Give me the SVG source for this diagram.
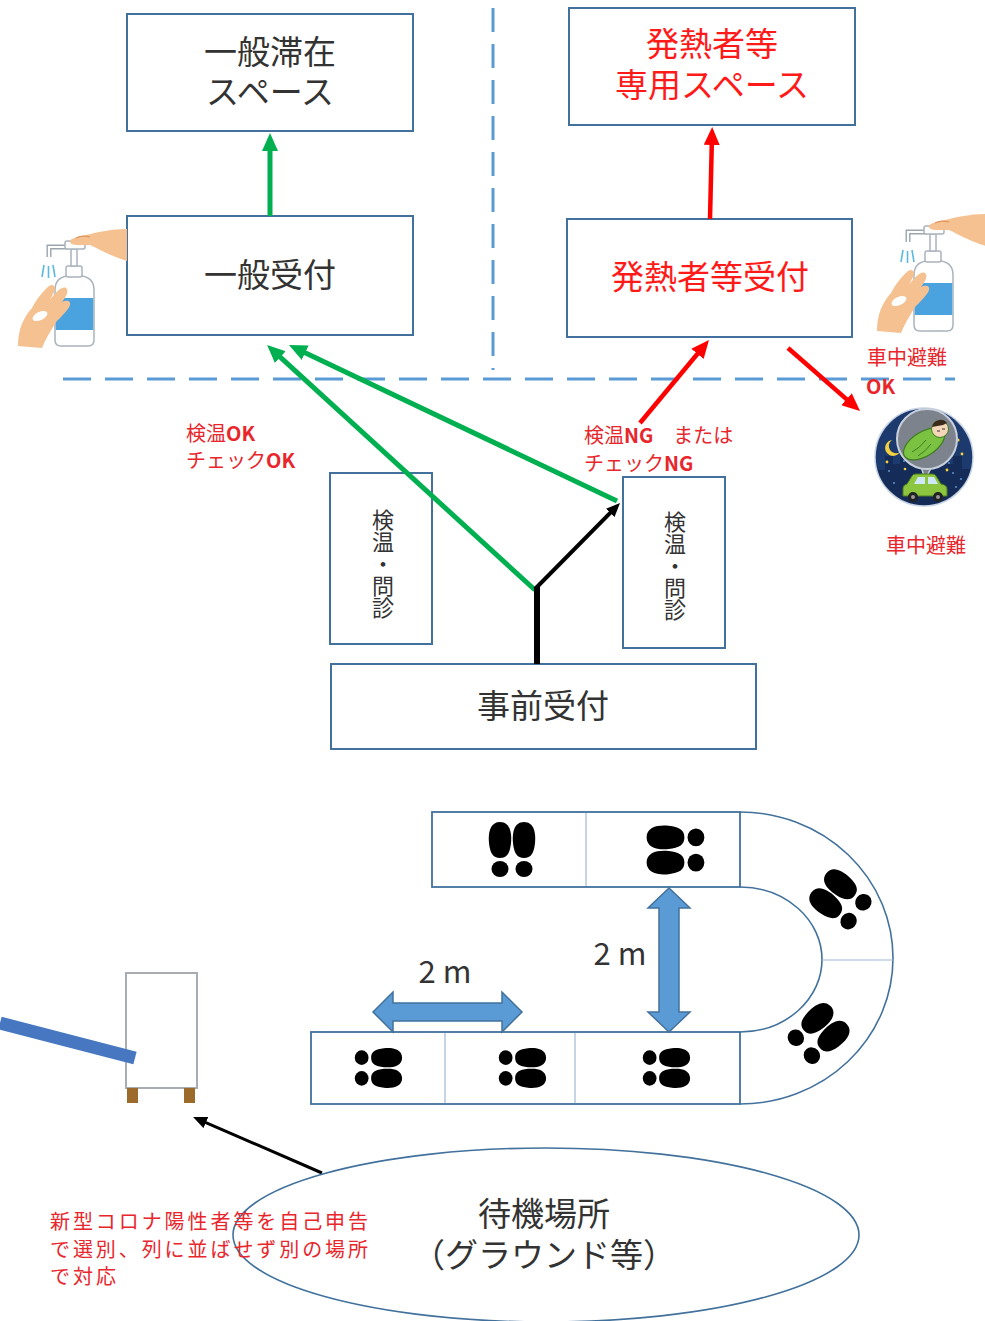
<svg xmlns="http://www.w3.org/2000/svg" xmlns:xlink="http://www.w3.org/1999/xlink" width="985" height="1321" viewBox="0 0 985 1321">
  <style>
    text { font-family: "Noto Sans CJK JP", "Noto Sans", sans-serif; }
    .box { fill: #ffffff; stroke: #41719c; stroke-width: 2; }
    .lbl { font-size: 33px; fill: #333333; text-anchor: middle; }
    .lbl-red { font-size: 33px; fill: #ff1a1a; text-anchor: middle; }
    .vt { font-size: 22px; fill: #333333; writing-mode: vertical-rl; }
    .note { font-size: 20px; fill: #e8262c; }
    .divider { stroke: #5b9bd5; stroke-width: 3; fill: none; }
    .lane { fill: #ffffff; stroke: #41719c; stroke-width: 1.8; }
    .lane-sep { stroke: #9dbad6; stroke-width: 1.2; }
    .curve { fill: none; stroke: #41719c; stroke-width: 1.6; }
    .g-arrow { stroke: #00b050; stroke-width: 5; fill: none; }
    .r-arrow { stroke: #ff0000; stroke-width: 4.5; fill: none; }
    .k-arrow { stroke: #000000; fill: none; }
    .dist { fill: #5b9bd5; stroke: #41719c; stroke-width: 1.5; }
    .skin { fill: #f6c190; }
  </style>
  <defs>
    <marker id="ah-green" viewBox="0 0 18 16" refX="6" refY="8" markerWidth="18" markerHeight="16" markerUnits="userSpaceOnUse" orient="auto">
      <path d="M0,0 L18,8 L0,16 z" fill="#00b050"/>
    </marker>
    <marker id="ah-red" viewBox="0 0 18 16" refX="6" refY="8" markerWidth="18" markerHeight="16" markerUnits="userSpaceOnUse" orient="auto">
      <path d="M0,0 L18,8 L0,16 z" fill="#ff0000"/>
    </marker>
    <marker id="ah-black" viewBox="0 0 14 12" refX="5" refY="6" markerWidth="14" markerHeight="12" markerUnits="userSpaceOnUse" orient="auto">
      <path d="M0,0 L14,6 L0,12 z" fill="#000000"/>
    </marker>
    <!-- a pair of shoe prints, toes pointing up -->
    <g id="feet">
      <path d="M-12,-28 C-2,-28 0,-17 -1,-7 C-2,3 -5,8 -12,8 C-19,8 -22,3 -23,-7 C-24,-17 -22,-28 -12,-28 Z" fill="#000"/>
      <ellipse cx="-12" cy="19" rx="8.5" ry="8" fill="#000"/>
      <path d="M12,-28 C22,-28 24,-17 23,-7 C22,3 19,8 12,8 C5,8 2,3 1,-7 C0,-17 2,-28 12,-28 Z" fill="#000"/>
      <ellipse cx="12" cy="19" rx="8.5" ry="8" fill="#000"/>
    </g>
    <!-- hand sanitizer pump bottle with two hands -->
    <g id="sanitizer">
      <path d="M55,290 Q55,278 67,276 L82,276 Q94,278 94,290 L94,340 Q94,346 88,346 L61,346 Q55,346 55,340 Z" fill="#ffffff" stroke="#aab3bc" stroke-width="1.5"/>
      <rect x="55.8" y="298" width="37.4" height="32" fill="#4aa3df"/>
      <rect x="66" y="266" width="16" height="11" rx="2" fill="#ffffff" stroke="#aab3bc" stroke-width="1.5"/>
      <rect x="71" y="249" width="6" height="17" fill="#ffffff" stroke="#aab3bc" stroke-width="1.5"/>
      <path d="M68,247 H49 V257" fill="none" stroke="#9aa5ae" stroke-width="5"/>
      <path d="M68,247 H49 V257" fill="none" stroke="#ffffff" stroke-width="2.2"/>
      <rect x="65" y="241" width="20" height="8" rx="2" fill="#ffffff" stroke="#aab3bc" stroke-width="1.5"/>
      <path d="M44,265 L42,277 M48.5,266 L48.5,278 M53,265 L55,277" stroke="#5bb8de" stroke-width="1.6" fill="none"/>
      <path class="skin" d="M127,229 C112,229 98,232 86,235 C76,237 69,239 70,242 C71,246 80,245 90,245 C99,249 110,256 127,261 Z"/>
      <path d="M76,238 C80,236 86,236 90,237" stroke="#e0935e" stroke-width="1.2" fill="none"/>
      <path class="skin" d="M18,346 C18,330 23,318 32,308 C36,300 43,291 49,286 C53,283 57,287 54,292 L50,300 C56,292 62,286 66,288 C69,290 67,296 62,302 C66,300 71,300 70,305 C69,309 62,316 56,322 C50,332 45,340 42,348 Z"/>
      <ellipse cx="40" cy="316" rx="8" ry="4" fill="#ffffff" transform="rotate(-25 40 316)"/>
    </g>
  </defs>

  <rect x="0" y="0" width="985" height="1321" fill="#ffffff"/>

  <!-- zone dividers -->
  <g id="zone-dividers">
    <line class="divider" x1="493" y1="8" x2="493" y2="370" stroke-dasharray="24 12"/>
    <line class="divider" x1="63" y1="379" x2="955" y2="379" stroke-dasharray="28 14"/>
  </g>

  <!-- nodes -->
  <g id="general-space">
    <rect class="box" x="127" y="14" width="286" height="117"/>
    <text class="lbl" x="270" y="64">一般滞在<tspan x="270" dy="40">スペース</tspan></text>
  </g>
  <g id="fever-space">
    <rect class="box" x="569" y="8" width="286" height="117"/>
    <text class="lbl-red" x="712" y="56">発熱者等<tspan x="712" dy="41">専用スペース</tspan></text>
  </g>
  <g id="general-reception">
    <rect class="box" x="127" y="216" width="286" height="119"/>
    <text class="lbl" x="270" y="287">一般受付</text>
  </g>
  <g id="fever-reception">
    <rect class="box" x="567" y="219" width="285" height="118"/>
    <text class="lbl-red" x="710" y="289">発熱者等受付</text>
  </g>
  <g id="check-left">
    <rect class="box" x="330" y="473" width="102" height="171"/>
    <text class="vt" x="383" y="509">検温・問診</text>
  </g>
  <g id="check-right">
    <rect class="box" x="623" y="477" width="102" height="171"/>
    <text class="vt" x="675" y="511">検温・問診</text>
  </g>
  <g id="pre-reception">
    <rect class="box" x="331" y="664" width="425" height="85"/>
    <text class="lbl" x="543" y="718">事前受付</text>
  </g>

  <!-- connectors -->
  <g id="connectors">
    <line class="g-arrow" x1="270" y1="216" x2="270" y2="145" marker-end="url(#ah-green)"/>
    <line class="r-arrow" x1="710" y1="219" x2="711.9" y2="139" marker-end="url(#ah-red)"/>
    <line class="g-arrow" x1="535" y1="590" x2="275.9" y2="353.1" marker-end="url(#ah-green)"/>
    <line class="g-arrow" x1="617" y1="501" x2="299.8" y2="350.2" marker-end="url(#ah-green)"/>
    <line class="r-arrow" x1="640" y1="423" x2="701.3" y2="349.2" marker-end="url(#ah-red)"/>
    <line class="r-arrow" x1="788" y1="348" x2="851" y2="403.1" marker-end="url(#ah-red)"/>
    <line class="k-arrow" x1="537" y1="664" x2="537" y2="587" stroke-width="6"/>
    <line class="k-arrow" x1="535" y1="589" x2="613.7" y2="509.4" stroke-width="4" marker-end="url(#ah-black)"/>
    <line class="k-arrow" x1="322" y1="1173" x2="201.3" y2="1120.6" stroke-width="3" marker-end="url(#ah-black)"/>
  </g>

  <!-- branch labels -->
  <g id="labels">
    <text class="note" x="186" y="441">検温<tspan font-weight="bold">OK</tspan></text>
    <text class="note" x="186" y="468">チェック<tspan font-weight="bold">OK</tspan></text>
    <text class="note" x="584" y="443">検温<tspan font-weight="bold">NG</tspan>　または</text>
    <text class="note" x="584" y="471">チェック<tspan font-weight="bold">NG</tspan></text>
    <text class="note" x="867" y="365" font-size="22">車中避難</text>
    <text class="note" x="866" y="394" font-weight="bold">OK</text>
    <text class="note" x="886" y="553" font-size="22">車中避難</text>
  </g>

  <!-- sanitizer stations -->
  <g id="sanitizer-left">
    <use xlink:href="#sanitizer" href="#sanitizer"/>
  </g>
  <g id="sanitizer-right">
    <use xlink:href="#sanitizer" href="#sanitizer" transform="translate(859,-15)"/>
  </g>

  <!-- car sleeping icon -->
  <g id="car-stay-icon">
    <clipPath id="night-clip"><circle cx="924" cy="457" r="49"/></clipPath>
    <circle cx="924" cy="457" r="49" fill="#1c3a6e"/>
    <g clip-path="url(#night-clip)">
      <path d="M875,470 h10 v-14 h8 v8 h7 v-18 h10 v20 h8 v-10 h9 v14 h8 v-22 h10 v16 h8 v-8 h9 v13 h8 v60 h-100 z" fill="#142c57"/>
      <g fill="#4c78b0">
        <rect x="888" y="470" width="2" height="2"/><rect x="903" y="460" width="2" height="2"/>
        <rect x="904" y="468" width="2" height="2"/><rect x="948" y="462" width="2" height="2"/>
        <rect x="952" y="472" width="2" height="2"/><rect x="960" y="478" width="2" height="2"/>
        <rect x="893" y="482" width="2" height="2"/><rect x="955" y="486" width="2" height="2"/>
      </g>
    </g>
    <circle cx="924" cy="457" r="49" fill="none" stroke="#c9d4e4" stroke-width="1.5"/>
    <path d="M892,440 a8,8 0 1 0 8,12 a6,6 0 1 1 -8,-12 z" fill="#f4d03f"/>
    <g fill="#f4d03f">
      <circle cx="901" cy="426" r="1.6"/><circle cx="958" cy="440" r="1.6"/>
      <circle cx="962" cy="454" r="1.4"/><circle cx="887" cy="462" r="1.4"/>
      <circle cx="947" cy="470" r="1.4"/><circle cx="905" cy="469" r="1.3"/>
    </g>
    <path d="M921,466 L925,480 L932,466 Z" fill="#7d838d" stroke="#c8d0dc" stroke-width="1.5"/>
    <circle cx="927" cy="439" r="30" fill="#7d838d" stroke="#c8d0dc" stroke-width="2"/>
    <path d="M921,466 L932,466" stroke="#7d838d" stroke-width="3"/>
    <ellipse cx="924" cy="444" rx="23" ry="12" transform="rotate(-32 924 444)" fill="#7cc242" stroke="#3f7d22" stroke-width="1.2"/>
    <path d="M912,452 q8,-4 14,-12 M918,456 q8,-5 13,-12" stroke="#3f7d22" stroke-width="1" fill="none"/>
    <circle cx="940" cy="429" r="8.5" fill="#f6d6b8" stroke="#3f7d22" stroke-width="1"/>
    <path d="M932,427 a8.5,8.5 0 0 1 15,-4 l-4,2 z" fill="#3a2a1a"/>
    <path d="M937,431 h3 M942,429 h3" stroke="#333" stroke-width="1"/>
    <path d="M903,496 v-8 q0,-3 4,-4 l5,-8 q1,-2 4,-2 h16 q3,0 4,2 l5,8 q6,1 6,5 v7 z" fill="#8cc63f" stroke="#4f7d1e" stroke-width="1"/>
    <path d="M914,484 l4,-7 h7 v7 z M928,484 v-7 h6 l4,7 z" fill="#cfe8f7"/>
    <circle cx="913" cy="497" r="5" fill="#222"/><circle cx="938" cy="497" r="5" fill="#222"/>
    <circle cx="913" cy="497" r="2" fill="#999"/><circle cx="938" cy="497" r="2" fill="#999"/>
  </g>

  <!-- queue lanes with spacing marks -->
  <g id="queue-lanes">
    <path class="curve" d="M740,812 A153,146 0 0 1 740,1104"/>
    <path class="curve" d="M740,887 A82,72.5 0 0 1 740,1032"/>
    <line class="lane-sep" x1="822" y1="960" x2="893" y2="960"/>
    <rect class="lane" x="432" y="812" width="308" height="75"/>
    <line class="lane-sep" x1="586" y1="813" x2="586" y2="886"/>
    <rect class="lane" x="311" y="1032" width="429" height="72"/>
    <line class="lane-sep" x1="445" y1="1033" x2="445" y2="1103"/>
    <line class="lane-sep" x1="575" y1="1033" x2="575" y2="1103"/>
  </g>
  <g id="footprints">
    <use href="#feet" xlink:href="#feet" transform="translate(512,850)"/>
    <use href="#feet" xlink:href="#feet" transform="translate(676,850) rotate(-90) scale(1.05)"/>
    <use href="#feet" xlink:href="#feet" transform="translate(841,900) rotate(-52)"/>
    <use href="#feet" xlink:href="#feet" transform="translate(818,1034) rotate(48)"/>
    <use href="#feet" xlink:href="#feet" transform="translate(378,1068) rotate(90) scale(0.86)"/>
    <use href="#feet" xlink:href="#feet" transform="translate(522,1068) rotate(90) scale(0.86)"/>
    <use href="#feet" xlink:href="#feet" transform="translate(666,1068) rotate(90) scale(0.86)"/>
  </g>

  <!-- 2 m spacing indicators -->
  <g id="spacing-horizontal">
    <path class="dist" d="M373,1012 L393,992 L393,1003 L502,1003 L502,992 L522,1012 L502,1032 L502,1021 L393,1021 L393,1032 Z"/>
    <text x="445" y="983" font-size="31" fill="#333" text-anchor="middle">2 m</text>
  </g>
  <g id="spacing-vertical">
    <path class="dist" d="M669,888 L690,908 L679,908 L679,1012 L690,1012 L669,1032 L648,1012 L659,1012 L659,908 L648,908 Z"/>
    <text x="620" y="965" font-size="31" fill="#333" text-anchor="middle">2 m</text>
  </g>

  <!-- separate-area cabinet -->
  <g id="separate-area">
    <rect x="126" y="973" width="71" height="115" fill="#ffffff" stroke="#a8adb3" stroke-width="2"/>
    <rect x="127" y="1088" width="11" height="15" fill="#9c6a2a"/>
    <rect x="184" y="1088" width="11" height="15" fill="#9c6a2a"/>
    <line x1="0" y1="1023" x2="135" y2="1058" stroke="#4677c0" stroke-width="13"/>
  </g>

  <!-- waiting area -->
  <g id="waiting-area">
    <ellipse cx="546" cy="1235" rx="313" ry="87" fill="none" stroke="#41719c" stroke-width="1.6"/>
    <text class="lbl" x="544" y="1226">待機場所<tspan x="544" dy="41">（グラウンド等）</tspan></text>
  </g>

  <g id="self-report-note">
    <text class="note" x="50" y="1229" font-size="21" textLength="318" lengthAdjust="spacing">新型コロナ陽性者等を自己申告</text>
    <text class="note" x="50" y="1257" font-size="21" textLength="318" lengthAdjust="spacing">で選別、列に並ばせず別の場所</text>
    <text class="note" x="50" y="1284" font-size="21" textLength="66" lengthAdjust="spacing">で対応</text>
  </g>
</svg>
